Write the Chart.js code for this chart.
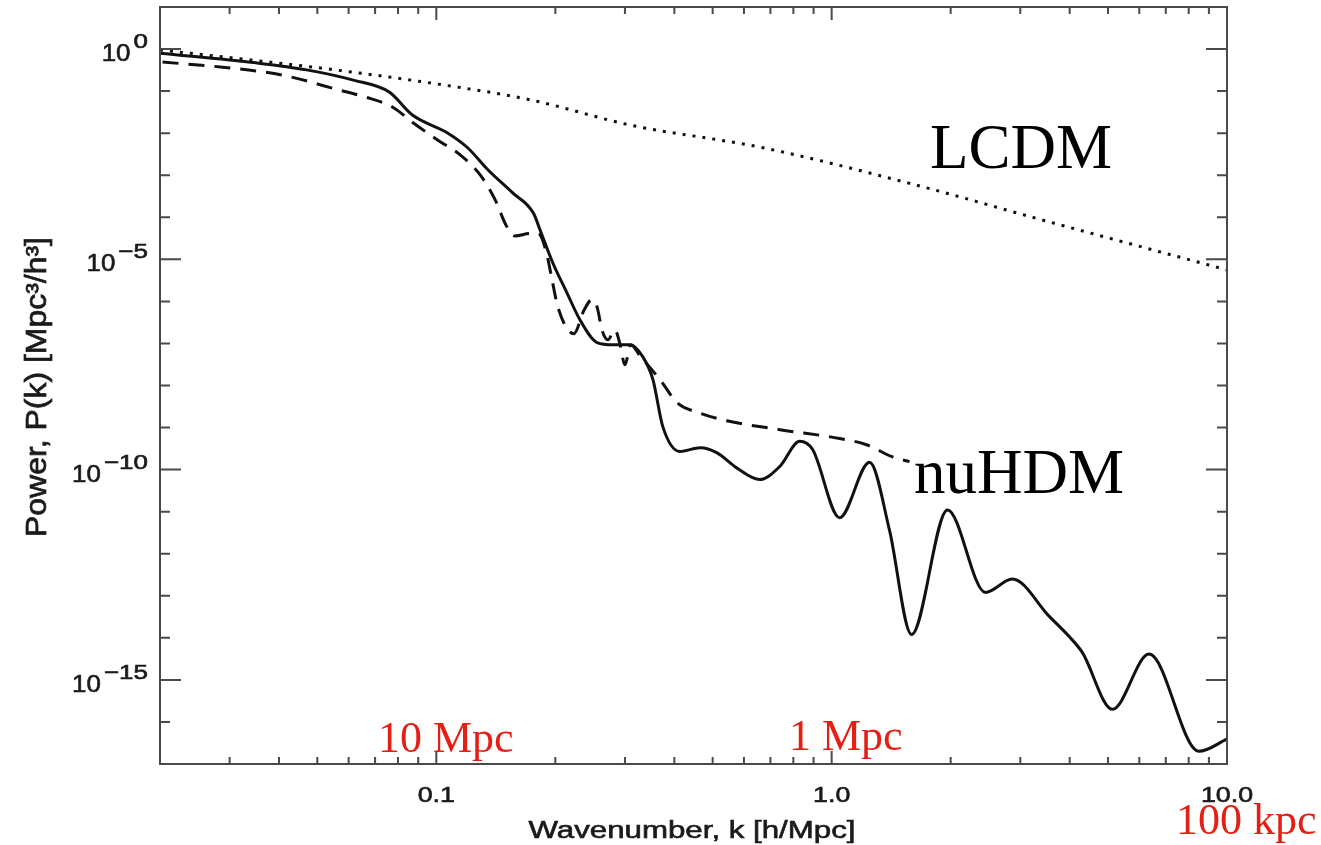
<!DOCTYPE html>
<html>
<head>
<meta charset="utf-8">
<title>P(k)</title>
<script src="https://cdn.jsdelivr.net/npm/chart.js@4.4.1/dist/chart.umd.min.js"></script>
<style>
  html, body { margin: 0; padding: 0; background: #fff; }
  #wrap { width: 1321px; height: 845px; }
  canvas { display: block; }
</style>
</head>
<body>
<div id="wrap"><canvas id="powerSpectrum" width="1321" height="845"></canvas></div>
<script>
// nuHDM, solid curve
const kNuHdm = [0.020, 0.035, 0.047, 0.062, 0.076, 0.087, 0.107, 0.120, 0.135, 0.156,
                0.176, 0.183, 0.197, 0.214, 0.231, 0.255, 0.280, 0.309, 0.333, 0.353,
                0.374, 0.413, 0.465, 0.513, 0.575, 0.658, 0.740, 0.830, 0.895, 1.047,
                1.247, 1.400, 1.592, 1.963, 2.449, 2.864, 3.556, 3.990, 4.305, 5.129,
                6.353, 8.490, 10.0];
const pNuHdm = [0.80, 0.47, 0.32, 0.18, 0.095, 0.027, 0.010, 4.5e-3, 1.35e-3, 3.8e-4,
                1.26e-4, 5.0e-5, 8.3e-6, 1.6e-6, 3.6e-7, 1.05e-7, 9.3e-8, 9.3e-8, 4.8e-8, 1.4e-8,
                1.05e-9, 2.7e-10, 3.3e-10, 2.5e-10, 1.1e-10, 5.8e-11, 1.2e-10, 4.7e-10, 3.0e-10, 7.2e-12,
                1.5e-10, 3.7e-12, 1.2e-14, 1.1e-11, 1.2e-13, 2.5e-13, 3.2e-14, 1.07e-14, 4.5e-15, 2.0e-16,
                4.1e-15, 2.0e-17, 3.9e-17];

// dashed curve
const kDashed = [0.0203, 0.0288, 0.0408, 0.0566, 0.0662, 0.0774, 0.0875, 0.1007, 0.1151, 0.1291,
                 0.1409, 0.1503, 0.1581, 0.1726, 0.1811, 0.1897, 0.1963, 0.2032, 0.2228, 0.2366,
                 0.2477, 0.2553, 0.2624, 0.2716, 0.2831, 0.2917, 0.2999, 0.3105, 0.3273, 0.3698,
                 0.4064, 0.4645, 0.5433, 0.7396, 1.047, 1.225, 1.426, 1.574];
const pDashed = [0.49, 0.37, 0.24, 0.107, 0.072, 0.042, 0.0174, 6.9e-3, 3.0e-3, 1.02e-3,
                 2.6e-4, 6.3e-5, 3.6e-5, 4.1e-5, 4.1e-5, 1.5e-5, 3.2e-6, 7.1e-7, 1.7e-7, 6.3e-7,
                 1.1e-6, 7.1e-7, 2.1e-7, 1.23e-7, 2.1e-7, 9.3e-8, 3.1e-8, 9.3e-8, 5.1e-8, 1.3e-8,
                 3.9e-9, 2.2e-9, 1.45e-9, 8.9e-10, 5.5e-10, 3.9e-10, 2.0e-10, 1.55e-10];

// LCDM, dotted curve
const kLcdm = [0.020, 0.034, 0.054, 0.097, 0.173, 0.31, 0.67, 1.74, 3.22, 10.0];
const pLcdm = [0.95, 0.55, 0.33, 0.155, 0.062, 0.0155, 4.5e-3, 5.0e-4, 1.0e-4, 5.6e-6];

const xTickValues = [0.1, 1, 10];
const xTickLabels = ['0.1', '1.0', '10.0'];
const yTickExponents = [0, -5, -10, -15];

const RED = 'rgb(228, 32, 22)';
const INK = '#1a1a1a';
const FRAME = '#4a4a4a';

const toPoints = (ks, ps) => ks.map((k, i) => ({ x: k, y: ps[i] }));

// text with a horizontal stretch (or a target width); heavy adds a thin outline
function drawText(ctx, str, x, y, o) {
  ctx.save();
  ctx.font = o.font;
  ctx.fillStyle = o.color || INK;
  ctx.strokeStyle = o.color || INK;
  ctx.textAlign = o.align || 'left';
  ctx.textBaseline = 'alphabetic';
  ctx.translate(x, y);
  if (o.rotate) ctx.rotate(o.rotate);
  let sx = o.sx || 1;
  if (o.width) sx = o.width / ctx.measureText(str).width;
  ctx.scale(sx, o.sy || 1);
  ctx.fillText(str, 0, 0);
  if (o.heavy) {
    ctx.lineWidth = o.heavy;
    ctx.strokeText(str, 0, 0);
  }
  const w = ctx.measureText(str).width * sx;
  ctx.restore();
  return w;
}

// box, inward ticks on all four sides, tick labels, titles, annotations
const frameAndLabels = {
  id: 'frameAndLabels',
  afterDatasetsDraw(chart) {
    const { ctx, chartArea: a, scales: { x, y } } = chart;
    ctx.save();
    ctx.strokeStyle = FRAME;
    ctx.lineWidth = 2;
    ctx.strokeRect(a.left, a.top, a.right - a.left, a.bottom - a.top);

    const xMinor = [];
    [0.01, 0.1, 1].forEach(d => {
      for (let m = 2; m <= 9; m++) {
        const v = +(m * d).toPrecision(3);
        if (v > x.min && v < x.max) xMinor.push(v);
      }
    });
    ctx.beginPath();
    xMinor.forEach(v => {
      const px = x.getPixelForValue(v);
      ctx.moveTo(px, a.bottom); ctx.lineTo(px, a.bottom - 7);
      ctx.moveTo(px, a.top); ctx.lineTo(px, a.top + 7);
    });
    xTickValues.forEach(v => {
      const px = x.getPixelForValue(v);
      ctx.moveTo(px, a.bottom); ctx.lineTo(px, a.bottom - 13);
      ctx.moveTo(px, a.top); ctx.lineTo(px, a.top + 13);
    });
    for (let e = -16; e <= 0; e++) {
      const py = y.getPixelForValue(Math.pow(10, e));
      const len = yTickExponents.includes(e) ? 21 : 10;
      ctx.moveTo(a.left, py); ctx.lineTo(a.left + len, py);
      ctx.moveTo(a.right, py); ctx.lineTo(a.right - len, py);
    }
    ctx.stroke();
    ctx.restore();

    // x tick labels
    xTickValues.forEach((v, i) => {
      drawText(ctx, xTickLabels[i], x.getPixelForValue(v), a.bottom + 38,
        { font: '22px "Liberation Sans"', align: 'center', sx: 1.22, heavy: 0.6 });
    });

    // y tick labels: 10 with a raised exponent
    yTickExponents.forEach(e => {
      const py = y.getPixelForValue(Math.pow(10, e));
      const exp = e === 0 ? '0' : '\u2212' + Math.abs(e);
      const w = drawText(ctx, exp, 148, py - 1,
        { font: '20px "Liberation Sans"', align: 'right', sx: 1.3, heavy: 0.6 });
      drawText(ctx, '10', 148 - w - 3, py + 12,
        { font: '24px "Liberation Sans"', align: 'right', sx: 1.08, heavy: 0.6 });
    });

    // axis titles
    drawText(ctx, 'Wavenumber, k [h/Mpc]', 692, 838,
      { font: '23px "Liberation Sans"', align: 'center', width: 327, heavy: 0.6 });
    drawText(ctx, 'Power, P(k) [Mpc\u00b3/h\u00b3]', 46, 387,
      { font: '21px "Liberation Sans"', align: 'center', width: 300, sy: 1.4, rotate: -Math.PI / 2, heavy: 0.5 });

    // curve names and scale marks
    drawText(ctx, 'LCDM', 930, 168, { font: '63px "Liberation Serif"', color: '#000' });
    drawText(ctx, 'nuHDM', 914, 493, { font: '63px "Liberation Serif"', color: '#000' });
    drawText(ctx, '10 Mpc', 378, 752, { font: '44px "Liberation Serif"', color: RED });
    drawText(ctx, '1 Mpc', 789, 750, { font: '44px "Liberation Serif"', color: RED });
    drawText(ctx, '100 kpc', 1176, 834, { font: '44px "Liberation Serif"', color: RED });
  }
};

new Chart(document.getElementById('powerSpectrum'), {
  type: 'line',
  data: {
    datasets: [
      {
        label: 'LCDM',
        data: toPoints(kLcdm, pLcdm),
        borderColor: '#111',
        borderWidth: 3,
        borderDash: [3, 7],
        cubicInterpolationMode: 'monotone',
        pointRadius: 0,
        fill: false
      },
      {
        label: 'nuHDM (dashed)',
        data: toPoints(kDashed, pDashed),
        borderColor: '#111',
        borderWidth: 3,
        borderDash: [16, 10],
        cubicInterpolationMode: 'monotone',
        pointRadius: 0,
        fill: false
      },
      {
        label: 'nuHDM',
        data: toPoints(kNuHdm, pNuHdm),
        borderColor: '#111',
        borderWidth: 3,
        cubicInterpolationMode: 'monotone',
        pointRadius: 0,
        fill: false
      }
    ]
  },
  options: {
    responsive: false,
    animation: false,
    layout: { padding: { left: 160, top: 7, right: 94, bottom: 81 } },
    plugins: {
      legend: { display: false },
      tooltip: { enabled: false }
    },
    scales: {
      x: { type: 'logarithmic', min: 0.02, max: 10, display: false },
      y: { type: 'logarithmic', min: 1e-17, max: 10, display: false }
    }
  },
  plugins: [frameAndLabels]
});
</script>
</body>
</html>
